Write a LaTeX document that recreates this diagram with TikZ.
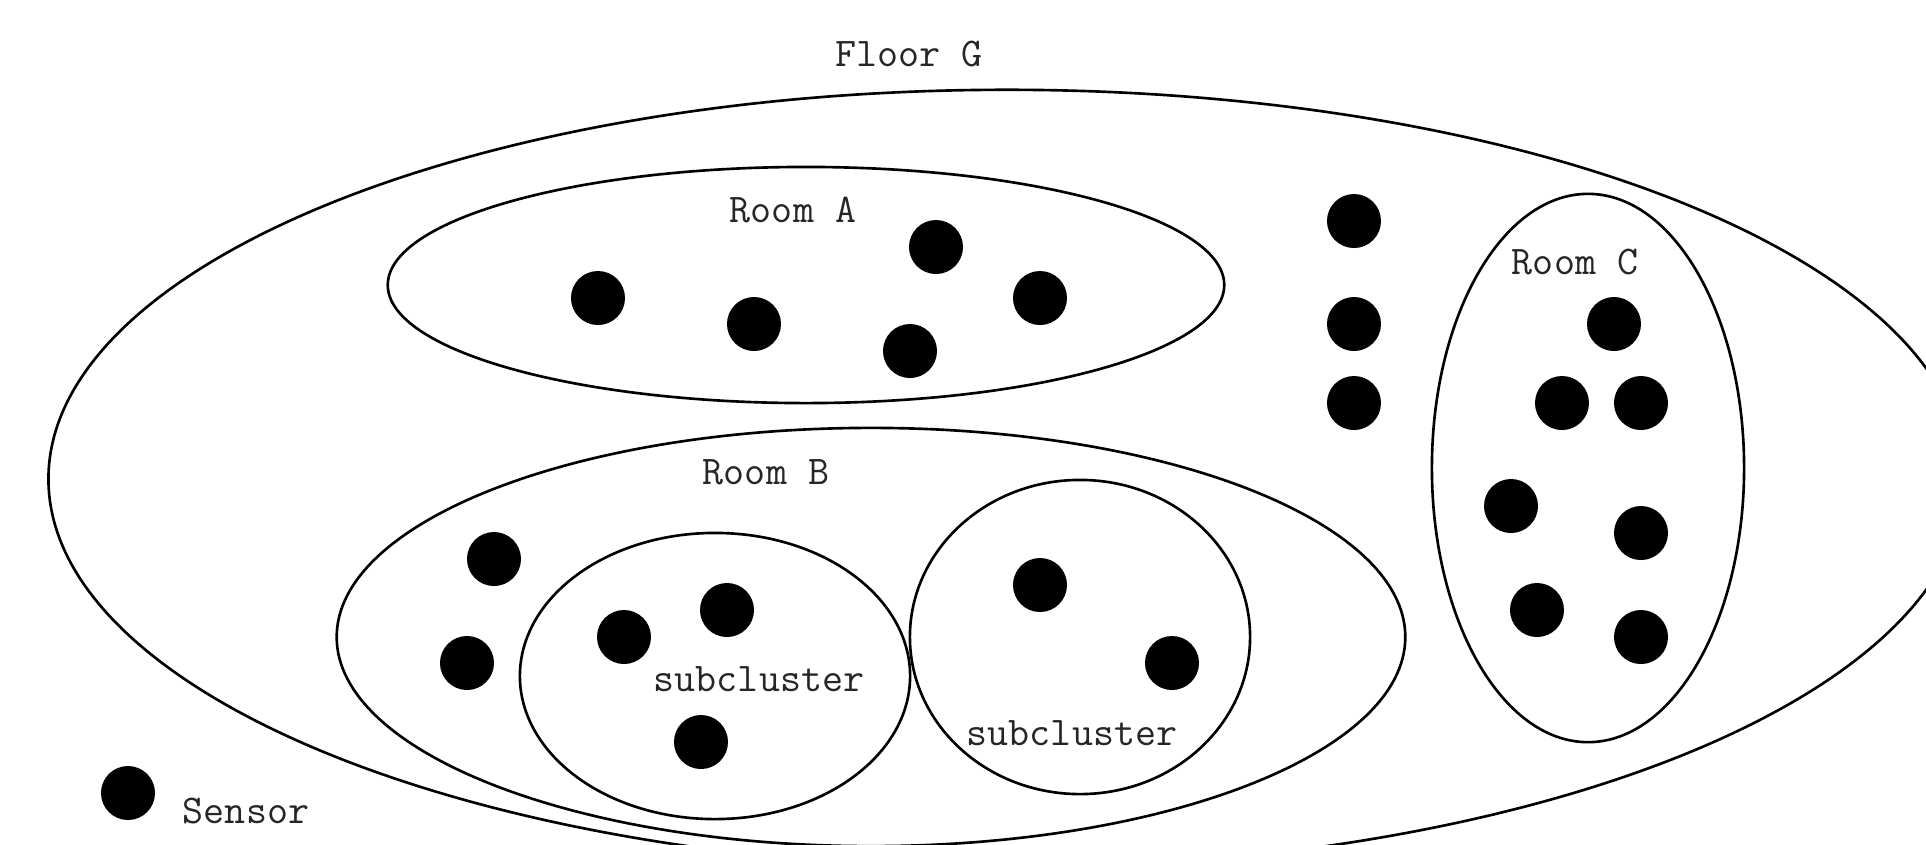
\documentclass[tikz,border=0pt]{standalone}
\usepackage{tikz}
\usetikzlibrary{positioning, shapes.geometric}
\tikzset{
  zone/.style={ellipse, draw=black, line width=0.75pt, inner sep=0pt},
  sensor/.style={circle, fill=black, inner sep=0pt, minimum size=0.54cm},
  zonelabel/.style={font=\fontsize{11.6}{14}\selectfont\ttfamily, text=black!85,
                    inner sep=0pt},
}
\begin{document}
\begin{tikzpicture}[x=0.01cm, y=-0.01cm]

  \clip (0,0) rectangle (1926,844);
  \useasboundingbox (0,0) rectangle (1926,844);

  %% Floor
  \node[zone, minimum width=19.16cm, minimum height=7.78cm] (floor) at (1007,479) {};
  \node[zonelabel] (floorlbl) at (909,54) {Floor G};

  %% Room A
  \node[zone, minimum width=8.36cm, minimum height=2.36cm] (rooma) at (806,285) {};
  \node[zonelabel] (roomalbl) at (793,210) {Room A};
  \node[sensor] (a1) at (598,298) {};
  \node[sensor] (a2) at (754,324) {};
  \node[sensor] (a3) at (936,247) {};
  \node[sensor] (a4) at (910,351) {};
  \node[sensor] (a5) at (1040,298) {};

  %% Sensors on the floor
  \node[sensor] (f1) at (1354,221) {};
  \node[sensor] (f2) at (1354,324) {};
  \node[sensor] (f3) at (1354,403) {};

  %% Room B
  \node[zone, minimum width=10.68cm, minimum height=4.18cm] (roomb) at (871,637) {};
  \node[zonelabel] (roomblbl) at (766,472) {Room B};
  \node[sensor] (b1) at (494,559) {};
  \node[sensor] (b2) at (467,663) {};

  %% Subclusters
  \node[zone, minimum width=3.90cm, minimum height=2.86cm] (subone) at (715,676) {};
  \node[zonelabel] (subonelbl) at (759,679) {subcluster};
  \node[sensor] (s1) at (624,637) {};
  \node[sensor] (s2) at (727,610) {};
  \node[sensor] (s3) at (701,742) {};

  \node[zone, minimum width=3.40cm, minimum height=3.14cm] (subtwo) at (1080,637) {};
  \node[zonelabel] (subtwolbl) at (1072,733) {subcluster};
  \node[sensor] (t1) at (1040,585) {};
  \node[sensor] (t2) at (1172,663) {};

  %% Room C
  \node[zone, minimum width=3.12cm, minimum height=5.48cm] (roomc) at (1588,468) {};
  \node[zonelabel] (roomclbl) at (1575,262) {Room C};
  \node[sensor] (c1) at (1614,324) {};
  \node[sensor] (c2) at (1562,403) {};
  \node[sensor] (c3) at (1641,403) {};
  \node[sensor] (c4) at (1511,506) {};
  \node[sensor] (c5) at (1641,533) {};
  \node[sensor] (c6) at (1537,610) {};
  \node[sensor] (c7) at (1641,637) {};

  %% Legend
  \node[sensor] (legend) at (128,793) {};
  \node[zonelabel] (legendlbl) at (246,811) {Sensor};

\end{tikzpicture}
\end{document}
